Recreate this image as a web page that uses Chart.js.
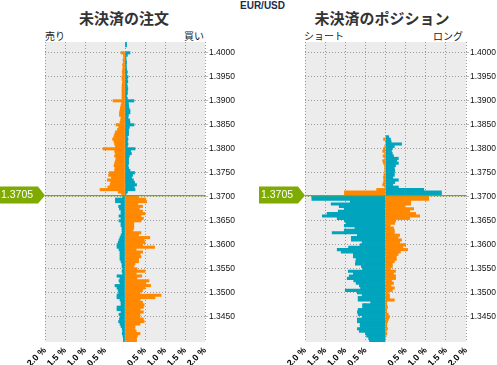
<!DOCTYPE html>
<html>
<head>
<meta charset="utf-8">
<script src="https://cdn.jsdelivr.net/npm/chart.js@4.4.0/dist/chart.umd.min.js"></script>
<style>
  body { margin: 0; background: #fff; }
  #wrap { position: relative; width: 497px; height: 365px; overflow: hidden; }
  canvas { position: absolute; top: 0; }
  .txt { position: absolute; white-space: nowrap; color: #333; font-family: "Noto Sans CJK JP", sans-serif; }
  .title { font-size: 15px; font-weight: bold; line-height: 15px; top: 10px; transform: translateX(-50%); }
  .side { font-size: 10px; line-height: 10px; top: 31px; color: #222; }
</style>
</head>
<body>
<div id="wrap">
  <div class="txt" style="left:240px;top:0px;font:bold 10px 'Liberation Sans',Arial,sans-serif;color:#1c2b4a;">EUR/USD</div>
  <div class="txt title" style="left:124px;">未決済の注文</div>
  <div class="txt title" style="left:382px;">未決済のポジション</div>
  <div class="txt side" style="left:45px;">売り</div>
  <div class="txt side" style="right:293px;">買い</div>
  <div class="txt side" style="left:304px;">ショート</div>
  <div class="txt side" style="right:34px;">ロング</div>
  <canvas id="orders" width="250" height="365" style="left:0"></canvas>
  <canvas id="positions" width="247" height="365" style="left:250px"></canvas>
</div>
<script>
// price buckets, top to bottom (1.4020 ... 1.3400, step 0.0005)
const topLevel = 1.4020;
const levelStep = 0.0005;
const currentPrice = 1.3705;
const priceTicks = [1.3450, 1.3500, 1.3550, 1.3600, 1.3650, 1.3700, 1.3750, 1.3800, 1.3850, 1.3900, 1.3950, 1.4000];
const percentTicks = [-2, -1.5, -1, -0.5, 0, 0.5, 1, 1.5, 2];

// open orders (%), sell = left side, buy = right side
const sellOrders = [
  0, 0, 0, 0,
  0.1, 0.04, 0.035, 0.05, 0.04, 0.06, 0.05, 0.06, 0.07, 0.06,
  0.075, 0.075, 0.06, 0.07, 0.075, 0.075, 0.075, 0.075, 0.075, 0.075,
  0.3, 0.085, 0.1, 0.115, 0.125, 0.14, 0.14, 0.1, 0.11, 0.125,
  0.225, 0.16, 0.19, 0.24, 0.26, 0.28, 0.31, 0.275, 0.26, 0.24,
  0.55, 0.26, 0.24, 0.26, 0.225, 0.24, 0.26, 0.275, 0.25, 0.26,
  0.39, 0.41, 0.34, 0.44, 0.36, 0.375, 0.43, 0.625, 0.17, 0.085,
  0.06, 0.24, 0.24, 0.1, 0.16, 0.14, 0.1, 0.1, 0.15, 0.1,
  0.15, 0.1, 0.1, 0.075, 0.075, 0.075, 0.1, 0.125, 0.15, 0.17,
  0.2, 0.2, 0.15, 0.125, 0.125, 0.125, 0.125, 0.1, 0.075, 0.075,
  0.06, 0.075, 0.06, 0.2, 0.125, 0.15, 0.125, 0.25, 0.2, 0.17,
  0.16, 0.2, 0.2, 0.125, 0.1, 0.1, 0.2, 0.2, 0.1, 0.15,
  0.125, 0.14, 0.16, 0.125, 0.1, 0.07, 0.06, 0.07, 0.05, 0.04,
  0.04
];
const buyOrders = [
  0.04, 0.04, 0, 0,
  0.125, 0.06, 0.025, 0.03, 0.04, 0.035, 0.035, 0.04, 0.06, 0.04,
  0.075, 0.06, 0.07, 0.05, 0.06, 0.07, 0.06, 0.06, 0.04, 0.06,
  0.225, 0.085, 0.09, 0.1, 0.125, 0.125, 0.085, 0.075, 0.115, 0.125,
  0.225, 0.11, 0.09, 0.09, 0.09, 0.06, 0.075, 0.06, 0.075, 0.06,
  0.25, 0.14, 0.16, 0.11, 0.09, 0.09, 0.09, 0.075, 0.09, 0.125,
  0.24, 0.19, 0.165, 0.21, 0.24, 0.29, 0.23, 0.25, 0.06, 0.025,
  0.34, 0.52, 0.54, 0.32, 0.44, 0.36, 0.44, 0.5, 0.4, 0.46,
  0.4, 0.22, 0.22, 0.22, 0.2, 0.4, 0.34, 0.62, 0.48, 0.5,
  0.44, 0.74, 0.28, 0.44, 0.38, 0.4, 0.34, 0.34, 0.25, 0.22,
  0.3, 0.5, 0.28, 0.42, 0.3, 0.6, 0.52, 0.64, 0.5, 0.44,
  0.38, 0.9, 0.75, 0.38, 0.44, 0.48, 0.46, 0.38, 0.46, 0.375,
  0.375, 0.46, 0.48, 0.375, 0.25, 0.25, 0.28, 0.375, 0.31, 0.29,
  0.29
];

// open positions (%), short = left side, long = right side
const shortPositions = [
  0, 0, 0, 0,
  0, 0, 0, 0, 0, 0, 0, 0, 0, 0,
  0, 0, 0, 0, 0, 0, 0, 0, 0, 0,
  0, 0, 0, 0, 0, 0, 0, 0, 0, 0,
  0, 0, 0, 0, 0, 0, 0.05, 0, 0, 0.02,
  0.05, 0.07, 0.02, 0.06, 0.02, 0.07, 0.05, 0.02, 0.02, 0.02,
  0.02, 0.04, 0.05, 0.04, 0.05, 0.07, 0.02, 0.22, 1.02, 1.02,
  1.83, 1.83, 0.875, 1.35, 1.15, 1.025, 1.175, 1.45, 1.57, 1.2,
  1.025, 0.98, 1.025, 0.76, 1.025, 1.325, 0.7, 0.85, 0.85, 0.58,
  0.63, 0.92, 1.2, 1.1, 0.8, 0.8, 0.73, 0.74, 0.75, 0.6,
  0.57, 0.925, 0.8, 0.9, 0.95, 0.79, 0.73, 0.65, 0.62, 1.0,
  0.7, 0.58, 0.68, 0.68, 0.37, 0.57, 0.57, 0.68, 0.7, 0.68,
  0.58, 0.7, 0.7, 0.63, 0.63, 0.7, 0.65, 0.5, 0.47, 0.42,
  0.4
];
const longPositions = [
  0, 0, 0, 0,
  0, 0, 0, 0, 0, 0, 0, 0, 0, 0,
  0, 0, 0, 0, 0, 0, 0, 0, 0, 0,
  0, 0, 0, 0, 0, 0, 0, 0, 0, 0,
  0, 0, 0, 0, 0, 0.08, 0.125, 0.14, 0.4, 0.22,
  0.17, 0.15, 0.17, 0.2, 0.32, 0.28, 0.32, 0.25, 0.22, 0.23,
  0.22, 0.22, 0.18, 0.32, 0.23, 0.18, 0.32, 0.95, 1.39, 1.39,
  1.075, 1.075, 0.625, 0.625, 0.48, 0.7, 0.6, 0.75, 0.85, 0.6,
  0.25, 0.23, 0.12, 0.2, 0.22, 0.22, 0.35, 0.31, 0.4, 0.35,
  0.5, 0.43, 0.55, 0.37, 0.31, 0.27, 0.27, 0.22, 0.17, 0.17,
  0.125, 0.25, 0.2, 0.25, 0.25, 0.15, 0.2, 0.14, 0.22, 0.17,
  0.07, 0.1, 0.1, 0.22, 0.03, 0.03, 0.05, 0.03, 0.03, 0.07,
  0.1, 0.075, 0.05, 0.03, 0.03, 0.05, 0.02, 0.03, 0.01, 0,
  0
];

const ORANGE = "#ff8800";
const TEAL = "#00a5bd";
const GREEN = "#7fab00";

const levels = sellOrders.map((_, i) => +(topLevel - i * levelStep).toFixed(4));

const plotBg = {
  id: "plotBg",
  beforeDraw(chart) {
    const { ctx, chartArea: a } = chart;
    ctx.save();
    ctx.fillStyle = "#ececec";
    ctx.fillRect(a.left, a.top, a.right - a.left, a.bottom - a.top);
    ctx.restore();
  },
};

// green current price line + arrow label
const priceMarker = {
  id: "priceMarker",
  afterDatasetsDraw(chart) {
    const { ctx, chartArea: a } = chart;
    const y = chart.scales.y.getPixelForValue(currentPrice - levelStep / 2);
    ctx.save();
    ctx.strokeStyle = GREEN;
    ctx.lineWidth = 1.3;
    ctx.beginPath();
    ctx.moveTo(a.left, y);
    ctx.lineTo(a.right, y);
    ctx.stroke();

    const x0 = a.left - 46, x1 = a.left - 7;
    ctx.fillStyle = GREEN;
    ctx.beginPath();
    ctx.moveTo(x0, y - 9);
    ctx.lineTo(x1, y - 9);
    ctx.lineTo(a.left, y);
    ctx.lineTo(x1, y + 8);
    ctx.lineTo(x0, y + 8);
    ctx.closePath();
    ctx.fill();

    ctx.fillStyle = "#fff";
    ctx.font = "10.5px 'Liberation Sans', Arial, sans-serif";
    ctx.textBaseline = "middle";
    ctx.textAlign = "left";
    ctx.fillText(currentPrice.toFixed(4), x0 + 2, y);
    ctx.restore();
  },
};

function drawBook(canvasId, leftValues, rightValues, padLeft, axisWidth) {
  // empty buckets are left out so no sliver is drawn at zero
  const leftData = levels.map((p, i) => ({ x: leftValues[i] ? -leftValues[i] : null, y: p }));
  const rightData = levels.map((p, i) => ({ x: rightValues[i] ? rightValues[i] : null, y: p }));

  return new Chart(document.getElementById(canvasId), {
    type: "bar",
    data: {
      datasets: [
        {
          data: leftData,
          backgroundColor: levels.map((p) => (p >= currentPrice ? ORANGE : TEAL)),
        },
        {
          data: rightData,
          backgroundColor: levels.map((p) => (p >= currentPrice ? TEAL : ORANGE)),
        },
      ],
    },
    options: {
      indexAxis: "y",
      responsive: false,
      animation: false,
      datasets: {
        bar: {
          grouped: false,
          barPercentage: 1,
          categoryPercentage: 1,
          borderWidth: 0,
        },
      },
      layout: { padding: { left: padLeft, top: 42, right: 0, bottom: 0 } },
      plugins: { legend: { display: false }, tooltip: { enabled: false } },
      scales: {
        x: {
          type: "linear",
          min: -2,
          max: 2,
          offset: false,
          afterBuildTicks: (s) => { s.ticks = percentTicks.map((v) => ({ value: v })); },
          afterFit: (s) => { s.height = 23; },
          grid: { color: "#999", drawTicks: false, offset: false },
          border: { display: false, dash: [1, 2] },
          ticks: {
            minRotation: 45,
            maxRotation: 45,
            padding: 3,
            color: "#000",
            font: { family: "'Liberation Sans', Arial, sans-serif", size: 9, weight: "bold" },
            callback: (v) => (v === 0 ? "" : Math.abs(v).toFixed(1) + " %"),
          },
        },
        y: {
          type: "linear",
          position: "right",
          offset: false,
          min: topLevel - (levels.length - 0.5) * levelStep,
          max: topLevel + levelStep / 2,
          afterBuildTicks: (s) => { s.ticks = priceTicks.map((v) => ({ value: v })); },
          afterFit: (s) => { s.width = axisWidth; },
          grid: { color: "#999", offset: false, tickLength: 3, tickColor: "#bbb", tickBorderDash: [] },
          border: { display: false, dash: [1, 2] },
          ticks: {
            padding: 1,
            color: "#111",
            font: { family: "'Liberation Sans', Arial, sans-serif", size: 8.5 },
            callback: (v) => v.toFixed(4),
          },
        },
      },
    },
    plugins: [plotBg, priceMarker],
  });
}

drawBook("orders", sellOrders, buyOrders, 45, 45);
drawBook("positions", shortPositions, longPositions, 55, 31);
</script>
</body>
</html>
